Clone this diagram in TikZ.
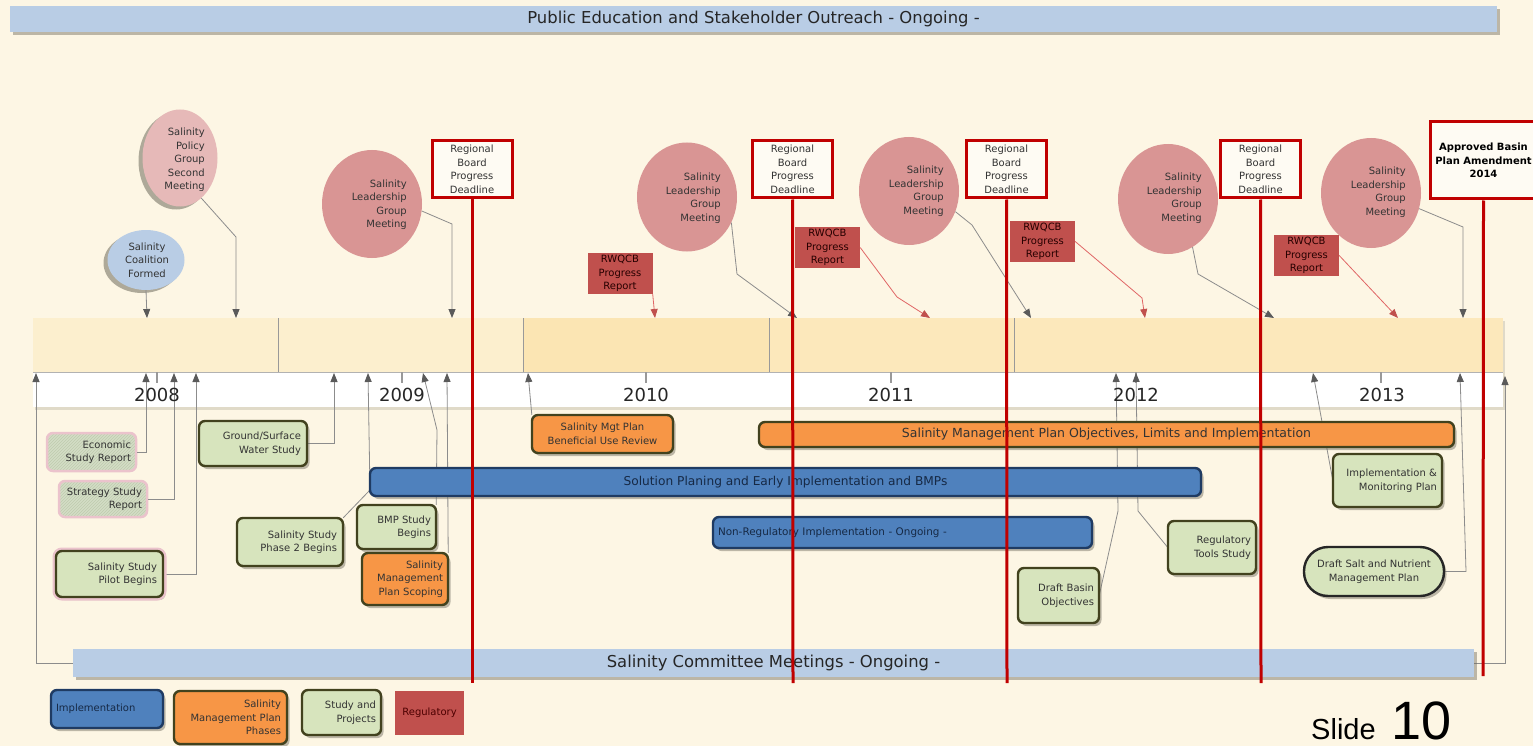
\documentclass[tikz,border=0pt]{standalone}
\usepackage{fontspec}
\setmainfont{DejaVu Sans}
\newfontfamily\slidefont{Liberation Sans}
\usetikzlibrary{shapes.geometric,arrows.meta,shadows,patterns}
\definecolor{bgc}{HTML}{FDF6E4}
\definecolor{outb}{HTML}{B9CDE5}
\definecolor{bandA}{HTML}{FCEFCE}
\definecolor{bandB}{HTML}{FBE5B3}
\definecolor{bandC}{HTML}{FCE8BB}
\definecolor{lgred}{HTML}{D99594}
\definecolor{polpink}{HTML}{E6B9B8}
\definecolor{regred}{HTML}{C0504D}
\definecolor{ddred}{HTML}{C00000}
\definecolor{studyg}{HTML}{D7E4BD}
\definecolor{smpo}{HTML}{F79646}
\definecolor{implb}{HTML}{4F81BD}
\definecolor{navy}{HTML}{1F3B63}
\definecolor{olivec}{HTML}{42421E}
\definecolor{txtc}{HTML}{333333}
\definecolor{lineg}{HTML}{8C8C8C}
\definecolor{tipg}{HTML}{5A5A5A}
\definecolor{redln}{HTML}{E06666}
\definecolor{pinkglow}{HTML}{EBC3CC}
\definecolor{hatchg}{HTML}{D3DDC5}
\definecolor{hatchc}{HTML}{BFCBAE}
\definecolor{ddfill}{HTML}{FEFBF3}
\definecolor{shadc}{HTML}{6E6A5C}
\begin{document}
\begin{tikzpicture}[x=1pt,y=-1pt,
  base/.style={font=\fontsize{10}{13.5}\selectfont, text=txtc, inner sep=0pt},
  shad/.style={drop shadow={shadow xshift=2.5pt, shadow yshift=-3pt, fill=shadc, opacity=0.45}},
  sshad/.style={drop shadow={shadow xshift=2pt, shadow yshift=-2.5pt, fill=shadc, opacity=0.2}},
  lshad/.style={drop shadow={shadow xshift=-4pt, shadow yshift=-3pt, fill=shadc, opacity=0.55}},
  gbox/.style={base, draw=olivec, line width=2.4pt, fill=studyg, rounded corners=6pt, align=right, shad},
  obox/.style={gbox, fill=smpo},
  hbox/.style={base, rounded corners=6pt, draw=pinkglow, line width=2.5pt, preaction={fill=hatchg}, pattern=north east lines, pattern color=hatchc, align=right},
  bbar/.style={base, draw=navy, line width=2.4pt, fill=implb, rounded corners=6pt, shad, text=navy!70!black},
  lbar/.style={base, fill=outb, shad, font=\fontsize{16.4}{18}\selectfont, text=black!85},
  lgc/.style={ellipse, fill=lgred, inner sep=0pt},
  ctext/.style={base, align=right, anchor=east},
  ddbox/.style={base, draw=ddred, line width=3pt, fill=ddfill, align=center},
  rq/.style={base, fill=regred, align=center, minimum width=65, minimum height=41, text=black!85!red},
  year/.style={font=\fontsize{18}{20}\selectfont, text=black!85, inner sep=0pt},
  conn/.style={draw=lineg, line width=0.8pt, -{Triangle[length=9pt,width=7pt,color=tipg]}},
  rconn/.style={draw=redln, line width=0.8pt, -{Triangle[length=9pt,width=7pt,color=regred]}},
  redline/.style={draw=ddred, line width=3pt}
]
\useasboundingbox (0,0) rectangle (1533,746);

% ---------------- background ----------------
\fill[bgc] (0,0) rectangle (1533,746);
\fill[white, sshad] (33,318) rectangle (1503,407);
\fill[bandA] (33,318) rectangle (523,372);
\fill[bandB] (523,318) rectangle (769,372);
\fill[bandC] (769,318) rectangle (1503,372);
\draw[black!30, line width=1pt] (33,372) -- (1503,372);
\foreach \sx in {278,523,769,1014} \draw[black!40, line width=1pt] (\sx,318) -- (\sx,372);
\foreach \tx in {157,402,646,891,1136,1381} \draw[black!40, line width=1.2pt] (\tx,372) -- (\tx,383);

% ---------------- connector end points ----------------
\coordinate (tCoal) at (147,318);
\coordinate (tPol) at (236,318);
\coordinate (tC1) at (452,318);
\coordinate (tR1) at (655,318);
\coordinate (tC2) at (797,318);
\coordinate (tR2) at (930,318);
\coordinate (tC3) at (1031,318);
\coordinate (tR3) at (1145,318);
\coordinate (tC4) at (1274,318);
\coordinate (tR4) at (1398,318);
\coordinate (tC5) at (1463,318);
\coordinate (bL) at (36,373);
\coordinate (bEco) at (146,373);
\coordinate (bStr) at (174,373);
\coordinate (bPil) at (196,373);
\coordinate (bGsw) at (334,373);
\coordinate (bPh2) at (368,373);
\coordinate (bBmp) at (423,373);
\coordinate (bScp) at (447,373);
\coordinate (bBur) at (528,373);
\coordinate (bDba) at (1116,373);
\coordinate (bRts) at (1136,373);
\coordinate (bImp) at (1313,373);
\coordinate (bDsn) at (1460,373);
\coordinate (bR) at (1505,376);
\coordinate (e1) at (472,683);
\coordinate (e2) at (793,683);
\coordinate (e3) at (1007,683);
\coordinate (e4) at (1261,683);
\coordinate (e5) at (1483,676);

% ---------------- meetings ----------------
\node[ellipse, fill=polpink, lshad, minimum width=75, minimum height=97, inner sep=0pt] (pol) at (180,158) {};
\node[ctext] (polt) at (205,160) {Salinity\\Policy\\Group\\Second\\Meeting};
\node[ellipse, fill=outb, lshad, minimum width=77, minimum height=60, inner sep=0pt] (coal) at (146,260) {};
\node[base, align=center] (coalt) at (147,260) {Salinity\\Coalition\\Formed};

\node[lgc, minimum width=100, minimum height=108] (c1) at (372,204) {};
\node[ctext] (c1t) at (407,204.5) {Salinity\\Leadership\\Group\\Meeting};
\node[lgc, minimum width=100, minimum height=109] (c2) at (687,197) {};
\node[ctext] (c2t) at (721,198) {Salinity\\Leadership\\Group\\Meeting};
\node[lgc, minimum width=100, minimum height=108] (c3) at (909,191) {};
\node[ctext] (c3t) at (944,191) {Salinity\\Leadership\\Group\\Meeting};
\node[lgc, minimum width=100, minimum height=110] (c4) at (1168,199) {};
\node[ctext] (c4t) at (1202,198) {Salinity\\Leadership\\Group\\Meeting};
\node[lgc, minimum width=100, minimum height=110] (c5) at (1371,193) {};
\node[ctext] (c5t) at (1406,192) {Salinity\\Leadership\\Group\\Meeting};

\node[rq] (r1) at (620,273.5) {RWQCB\\Progress\\Report};
\node[rq] (r2) at (827.5,247.5) {RWQCB\\Progress\\Report};
\node[rq] (r3) at (1042.5,241.5) {RWQCB\\Progress\\Report};
\node[rq] (r4) at (1306.5,255.5) {RWQCB\\Progress\\Report};

\draw[conn] (coal.south) -- (tCoal);
\draw[conn] (pol.-62) -- (236,237) -- (tPol);
\draw[conn] (c1.-8) -- (452,224) -- (tC1);
\draw[conn] (c2.-30) -- (737,274) -- (tC2);
\draw[conn] (c3.-24) -- (972,225) -- (tC3);
\draw[conn] (c4.-63) -- (1198,274) -- (tC4);
\draw[conn] (c5.-18) -- (1463,227) -- (tC5);
\draw[rconn] (r1.south east) -- (tR1);
\draw[rconn] (r2.east) -- (897,297) -- (tR2);
\draw[rconn] (r3.east) -- (1142,298) -- (tR3);
\draw[rconn] (r4.east) -- (tR4);

% ---------------- lower boxes: anchors and connectors first ----------------
\path (91.5,452) node[hbox, minimum width=89, minimum height=38, text width=79] (eco) {Economic\\Study Report};
\path (103,499) node[hbox, minimum width=88, minimum height=36, text width=78] (str) {Strategy Study\\Report};
\path (109.5,574) node[base, minimum width=107, minimum height=46] (pil) {};
\path (253,443.5) node[base, minimum width=108, minimum height=45] (gsw) {};
\path (290,542) node[base, minimum width=106, minimum height=48] (ph2) {};
\path (396.5,527) node[base, minimum width=79, minimum height=44] (bmp) {};
\path (405,579) node[base, minimum width=86, minimum height=52] (scp) {};
\path (602.5,434) node[base, minimum width=141, minimum height=38] (bur) {};
\path (1058.5,595.5) node[base, minimum width=81, minimum height=55] (dba) {};
\path (1212,547.5) node[base, minimum width=88, minimum height=53] (rts) {};
\path (1387.5,480.5) node[base, minimum width=109, minimum height=53] (imp) {};
\path (1374,571.5) node[base, minimum width=140, minimum height=49] (dsn) {};
\path (773.5,663) node[base, minimum width=1401, minimum height=28] (comm) {};

\draw[conn] (comm.west) -| (bL);
\draw[conn] (eco.east) -| (bEco);
\draw[conn] (str.east) -| (bStr);
\draw[conn] (pil.east) -| (bPil);
\draw[conn] (gsw.east) -| (bGsw);
\draw[conn] (ph2.north east) -- (370,490) -- (bPh2);
\draw[conn] (bmp.north east) -- (437,430) -- (bBmp);
\draw[conn] (scp.north east) -- (bScp);
\draw[conn] (bur.north west) -- (bBur);
\draw[conn] (dba.east) -- (1118,511) -- (bDba);
\draw[conn] (rts.west) -- (1138,511) -- (bRts);
\draw[conn] (imp.west) -- (bImp);
\draw[conn] (dsn.east) -- (1466,571.5) -- (bDsn);
\draw[conn] (comm.east) -- (1505,663) -- (bR);

% ---------------- visible boxes ----------------
\node[lbar, minimum width=1487, minimum height=26] (pub) at (753.5,19) {Public Education and Stakeholder Outreach - Ongoing -};
\node[lbar, minimum width=1401, minimum height=28] (commbar) at (comm) {Salinity Committee Meetings - Ongoing -};

\node[gbox, preaction={draw=pinkglow, line width=7pt}, minimum width=107, minimum height=46, text width=95] (pilbox) at (pil) {Salinity Study\\Pilot Begins};
\node[gbox, minimum width=108, minimum height=45, text width=96] (gswbox) at (gsw) {Ground/Surface\\Water Study};
\node[gbox, minimum width=106, minimum height=48, text width=94] (ph2box) at (ph2) {Salinity Study\\Phase 2 Begins};
\node[gbox, minimum width=79, minimum height=44, text width=69] (bmpbox) at (bmp) {BMP Study\\Begins};
\node[obox, minimum width=86, minimum height=52, text width=76] (scpbox) at (scp) {Salinity\\Management\\Plan Scoping};
\node[obox, minimum width=141, minimum height=38, align=center] (burbox) at (bur) {Salinity Mgt Plan\\Beneficial Use Review};
\node[gbox, minimum width=81, minimum height=55, text width=71] (dbabox) at (dba) {Draft Basin\\Objectives};
\node[gbox, minimum width=88, minimum height=53, text width=78] (rtsbox) at (rts) {Regulatory\\Tools Study};
\node[gbox, minimum width=109, minimum height=53, text width=99] (impbox) at (imp) {Implementation \&\\Monitoring Plan};
\node[gbox, draw=black!85, rounded corners=24pt, minimum width=140, minimum height=49, align=center] (dsnbox) at (dsn) {Draft Salt and Nutrient\\Management Plan};

\node[obox, minimum width=695, minimum height=25, align=center, font=\fontsize{12.5}{14}\selectfont, text=black!80] (smpol) at (1106.5,434.5) {Salinity Management Plan Objectives, Limits and Implementation};
\node[bbar, minimum width=831, minimum height=28, font=\fontsize{12.2}{14}\selectfont] (sol) at (785.5,482) {Solution Planing and Early Implementation and BMPs};
\node[bbar, minimum width=379, minimum height=31, text width=369, align=left, font=\fontsize{10.4}{12}\selectfont] (nonreg) at (902.5,532.5) {Non-Regulatory Implementation - Ongoing -};

% ---------------- years ----------------
\node[year] (y08) at (157,395) {2008};
\node[year] (y09) at (402,395) {2009};
\node[year] (y10) at (646,395) {2010};
\node[year] (y11) at (891,395) {2011};
\node[year] (y12) at (1136,395) {2012};
\node[year] (y13) at (1382,395) {2013};

% ---------------- regulatory deadlines ----------------
\node[ddbox, minimum width=80, minimum height=57] (d1) at (472,169.5) {Regional\\Board\\Progress\\Deadline};
\node[ddbox, minimum width=80, minimum height=57] (d2) at (792.5,169.5) {Regional\\Board\\Progress\\Deadline};
\node[ddbox, minimum width=80, minimum height=57] (d3) at (1006.5,169.5) {Regional\\Board\\Progress\\Deadline};
\node[ddbox, minimum width=80, minimum height=57] (d4) at (1260.5,169.5) {Regional\\Board\\Progress\\Deadline};
\node[ddbox, minimum width=107, minimum height=77, font=\bfseries\fontsize{10}{13.5}\selectfont, text=black] (ap) at (1483.5,160.5) {Approved Basin\\Plan Amendment\\2014};
\draw[redline] (d1.south) -- (e1);
\draw[redline] (d2.south) -- (e2);
\draw[redline] (d3.south) -- (e3);
\draw[redline] (d4.south) -- (e4);
\draw[redline] (ap.south) -- (e5);

% ---------------- legend ----------------
\node[bbar, minimum width=112, minimum height=38, text width=102, align=left] (lgimp) at (107,709) {Implementation};
\node[obox, minimum width=113, minimum height=53, text width=101] (lgsmp) at (230.5,717.5) {Salinity\\Management Plan\\Phases};
\node[gbox, minimum width=79, minimum height=45, text width=69] (lgstd) at (341.5,712.5) {Study and\\Projects};
\node[base, fill=regred, minimum width=69, minimum height=44, text=black!70!red] (lgreg) at (429.5,713) {Regulatory};

\node[anchor=base west, inner sep=0pt, font=\slidefont\fontsize{29}{29}\selectfont] (slw) at (1311,739) {Slide};
\node[anchor=base west, inner sep=0pt, font=\slidefont\fontsize{54}{54}\selectfont] (sln) at (1391,739) {10};
\end{tikzpicture}
\end{document}
